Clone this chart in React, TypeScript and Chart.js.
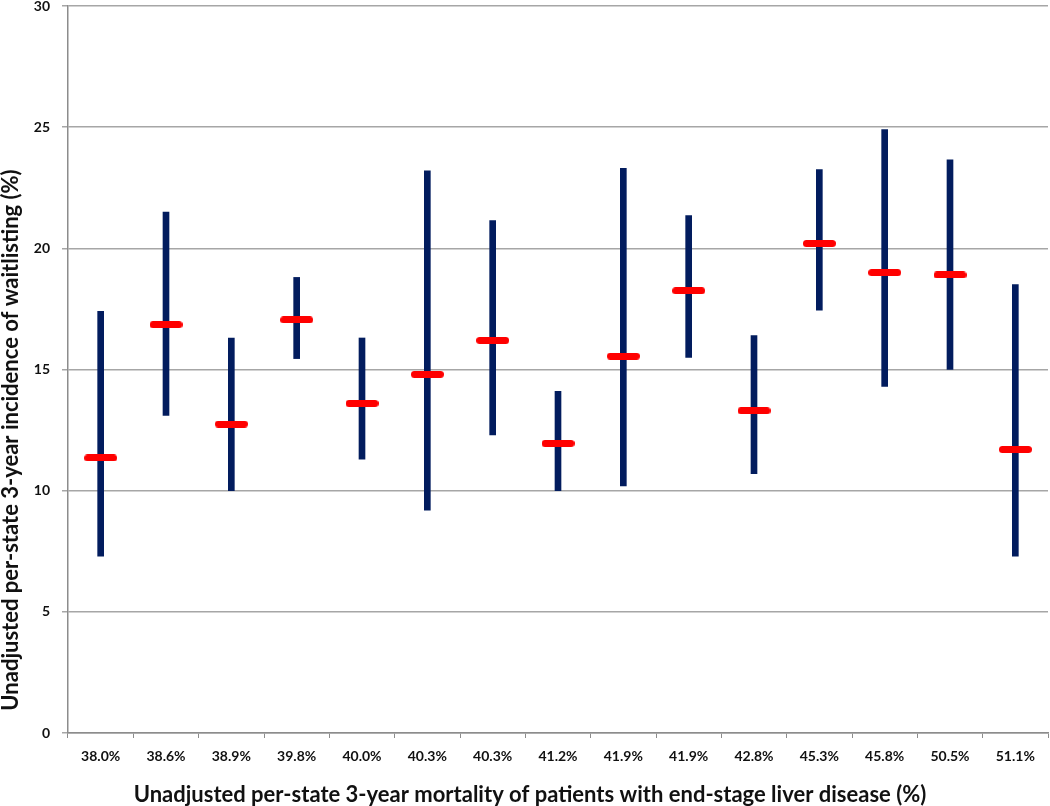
import React, { useEffect, useRef } from "react";
import { Chart, registerables } from "chart.js";

Chart.register(...registerables);

const categories = [
  "38.0%", "38.6%", "38.9%", "39.8%", "40.0%", "40.3%", "40.3%", "41.2%",
  "41.9%", "41.9%", "42.8%", "45.3%", "45.8%", "50.5%", "51.1%",
];
const lowValues = [7.3, 13.1, 10.0, 15.45, 11.3, 9.2, 12.3, 10.0, 10.2, 15.5, 10.7, 17.45, 14.3, 15.0, 7.3];
const highValues = [17.4, 21.5, 16.3, 18.8, 16.3, 23.2, 21.15, 14.1, 23.3, 21.35, 16.4, 23.25, 24.9, 23.65, 18.5];
const markValues = [11.35, 16.85, 12.75, 17.05, 13.6, 14.8, 16.2, 11.95, 15.55, 18.25, 13.3, 20.2, 19.0, 18.9, 11.7];
const yTicks = [0, 5, 10, 15, 20, 25, 30];

const xTitle = "Unadjusted per-state 3-year mortality of patients with end-stage liver disease (%)";
const yTitle = "Unadjusted per-state 3-year incidence of waitlisting (%)";

const FONT = "Lato, 'Open Sans', 'DejaVu Sans', sans-serif";

function makeMarker(): HTMLCanvasElement {
  const c = document.createElement("canvas");
  c.width = 33;
  c.height = 7;
  const ctx = c.getContext("2d")!;
  ctx.fillStyle = "#ff0000";
  ctx.beginPath();
  const r = 3.5;
  ctx.moveTo(r, 0);
  ctx.lineTo(33 - r, 0);
  ctx.arc(33 - r, r, r, -Math.PI / 2, Math.PI / 2);
  ctx.lineTo(r, 7);
  ctx.arc(r, r, r, Math.PI / 2, (3 * Math.PI) / 2);
  ctx.closePath();
  ctx.fill();
  return c;
}

const titlePlugin = {
  id: "axisTitles",
  afterDraw(chart: any) {
    const ctx = chart.ctx as CanvasRenderingContext2D;
    ctx.save();
    ctx.fillStyle = "#111111";
    ctx.font = `bold 22px ${FONT}`;
    ctx.textAlign = "center";
    ctx.textBaseline = "alphabetic";
    ctx.fillText(xTitle, 530, 802);
    ctx.translate(18, 440);
    ctx.rotate(-Math.PI / 2);
    ctx.fillText(yTitle, 0, 0);
    ctx.restore();
  },
};

export default function App() {
  const ref = useRef<HTMLCanvasElement | null>(null);

  useEffect(() => {
    if (!ref.current) return;
    const marker = makeMarker();
    const chart = new Chart(ref.current, {
      type: "bar",
      data: {
        labels: categories,
        datasets: [
          {
            type: "line",
            label: "Incidence",
            data: markValues,
            showLine: false,
            pointStyle: marker as any,
            pointRadius: 3,
            pointHoverRadius: 3,
            order: 1,
          } as any,
          {
            type: "bar",
            label: "Range",
            data: categories.map((_, i) => [lowValues[i], highValues[i]]),
            backgroundColor: "#021c5e",
            borderWidth: 0,
            barThickness: 6,
            grouped: false,
            order: 2,
          } as any,
        ],
      },
      options: {
        responsive: false,
        animation: false,
        layout: { autoPadding: false, padding: { top: 0, right: 2, left: 0, bottom: 0 } },
        plugins: {
          legend: { display: false },
          tooltip: { enabled: false },
        },
        scales: {
          x: {
            offset: true,
            grid: {
              display: true,
              drawOnChartArea: false,
              drawTicks: true,
              tickLength: 5,
              color: "#8c8c8c",
              offset: true,
            },
            border: { display: true, color: "#8c8c8c", width: 1.5 },
            ticks: {
              color: "#111111",
              font: { family: FONT, size: 14, weight: "bold" },
              padding: 10,
              maxRotation: 0,
              autoSkip: false,
            },
            afterFit(scale: any) {
              scale.height = 73;
              scale.paddingLeft = 0;
              scale.paddingRight = 0;
            },
          },
          y: {
            min: 0,
            max: 30,
            afterBuildTicks(scale: any) {
              scale.ticks = yTicks.map((v) => ({ value: v }));
            },
            grid: {
              color: "#a6a6a6",
              lineWidth: 1.5,
              drawTicks: true,
              tickLength: 6,
            },
            border: { display: true, color: "#8c8c8c", width: 1.5 },
            ticks: {
              color: "#111111",
              font: { family: FONT, size: 14, weight: "bold" },
              padding: 12,
            },
            afterFit(scale: any) {
              scale.width = 68;
              scale.paddingTop = 6;
              scale.paddingBottom = 0;
            },
          },
        },
      },
      plugins: [titlePlugin],
    });
    return () => chart.destroy();
  }, []);

  return (
    <div style={{ position: "absolute", left: 0, top: 0, width: 1050, height: 806, background: "#fff" }}>
      <canvas ref={ref} width={1050} height={806} />
    </div>
  );
}
